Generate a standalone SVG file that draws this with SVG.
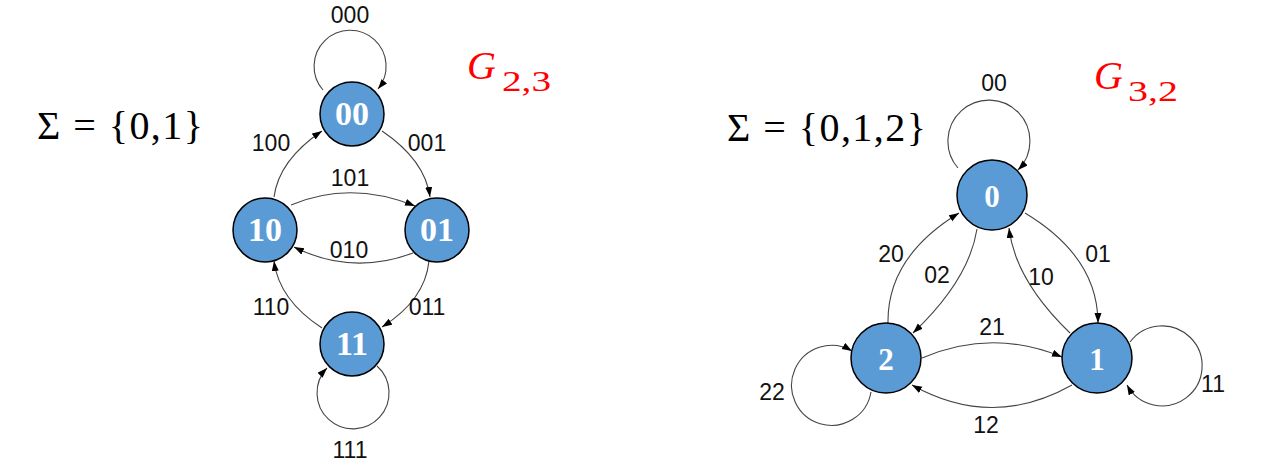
<svg xmlns="http://www.w3.org/2000/svg" width="1261" height="475" viewBox="0 0 1261 475">
<style>
.node circle{fill:#5B9BD5;stroke:#000;stroke-width:1.5}
.node text{font-family:"Liberation Serif",serif;font-weight:bold;fill:#fff;text-anchor:middle}
.edges path{fill:none;stroke:#444;stroke-width:1.1;marker-end:url(#arr)}
.lbl{font-family:"Liberation Sans",Arial,sans-serif;font-size:23px;fill:#111;text-anchor:middle}
.math{font-family:"Liberation Serif",serif;font-size:40px;fill:#000}
.g{font-family:"Liberation Serif",serif;fill:#f00}
</style>
<defs>
<marker id="arr" markerUnits="userSpaceOnUse" markerWidth="11" markerHeight="8" refX="10" refY="3.5" orient="auto">
<path d="M0,0 L10,3.5 L0,7 z" fill="#000"/>
</marker>
</defs>
<rect width="1261" height="475" fill="#fff"/>

<text class="math" x="37" y="139" textLength="166" lengthAdjust="spacing">Σ = {0,1}</text>
<text class="math" x="727" y="141" textLength="199" lengthAdjust="spacing">Σ = {0,1,2}</text>
<text class="g" y="79"><tspan x="467" font-style="italic" font-size="40">G</tspan><tspan x="502" y="91" font-size="30" textLength="49" lengthAdjust="spacingAndGlyphs">2,3</tspan></text>
<text class="g" y="89"><tspan x="1094" font-style="italic" font-size="40">G</tspan><tspan x="1128" y="101" font-size="30" textLength="50" lengthAdjust="spacingAndGlyphs">3,2</tspan></text>

<g class="edges" id="edges">
<path d="M323,90 A36,36 0 1 1 378,89"/>
<path d="M382,131 Q425,160 430,197"/>
<path d="M274,197 Q279,160 322,131"/>
<path d="M291,205 Q350,180 415,206"/>
<path d="M413,253 Q352,276 294,247"/>
<path d="M429,261 Q425,300 382,327"/>
<path d="M322,328 Q279,300 274,261"/>
<path d="M377,366 A36,36 0 1 1 327,368"/>

<path d="M958,168 A41,41 0 1 1 1018,170"/>
<path d="M1025,213 Q1098,257 1098,323"/>
<path d="M1070,333 Q1015,280 1009,228"/>
<path d="M888,323 Q887,257 959,213"/>
<path d="M977,229 Q969,280 913,333"/>
<path d="M922,358 Q992,328 1062,357"/>
<path d="M1072,385 Q992,430 912,385"/>
<path d="M871,392 A40,40 0 1 1 852,351"/>
<path d="M1130,342 A40,40 0 1 1 1127,385"/>
</g>

<g id="edge-labels">
<text class="lbl" x="350" y="23">000</text>
<text class="lbl" x="271" y="151">100</text>
<text class="lbl" x="427" y="151">001</text>
<text class="lbl" x="350" y="186">101</text>
<text class="lbl" x="349" y="258">010</text>
<text class="lbl" x="271" y="315">110</text>
<text class="lbl" x="427" y="315">011</text>
<text class="lbl" x="350" y="458">111</text>

<text class="lbl" x="994" y="91">00</text>
<text class="lbl" x="891" y="262">20</text>
<text class="lbl" x="937" y="283">02</text>
<text class="lbl" x="1041" y="285">10</text>
<text class="lbl" x="1098" y="262">01</text>
<text class="lbl" x="992" y="335">21</text>
<text class="lbl" x="986" y="433">12</text>
<text class="lbl" x="772" y="400">22</text>
<text class="lbl" x="1213" y="392">11</text>
</g>

<g class="node" id="n00"><circle cx="352" cy="114" r="32"/><text x="352" y="125" font-size="34">00</text></g>
<g class="node" id="n10"><circle cx="265" cy="230" r="32"/><text x="265" y="241" font-size="34">10</text></g>
<g class="node" id="n01"><circle cx="437" cy="230" r="32"/><text x="437" y="241" font-size="34">01</text></g>
<g class="node" id="n11"><circle cx="352" cy="344" r="32"/><text x="352" y="355" font-size="34">11</text></g>

<g class="node" id="n0"><circle cx="992" cy="195" r="35"/><text x="992" y="207" font-size="31">0</text></g>
<g class="node" id="n2"><circle cx="886" cy="358" r="35"/><text x="886" y="370" font-size="31">2</text></g>
<g class="node" id="n1"><circle cx="1097" cy="358" r="35"/><text x="1097" y="370" font-size="31">1</text></g>
</svg>
